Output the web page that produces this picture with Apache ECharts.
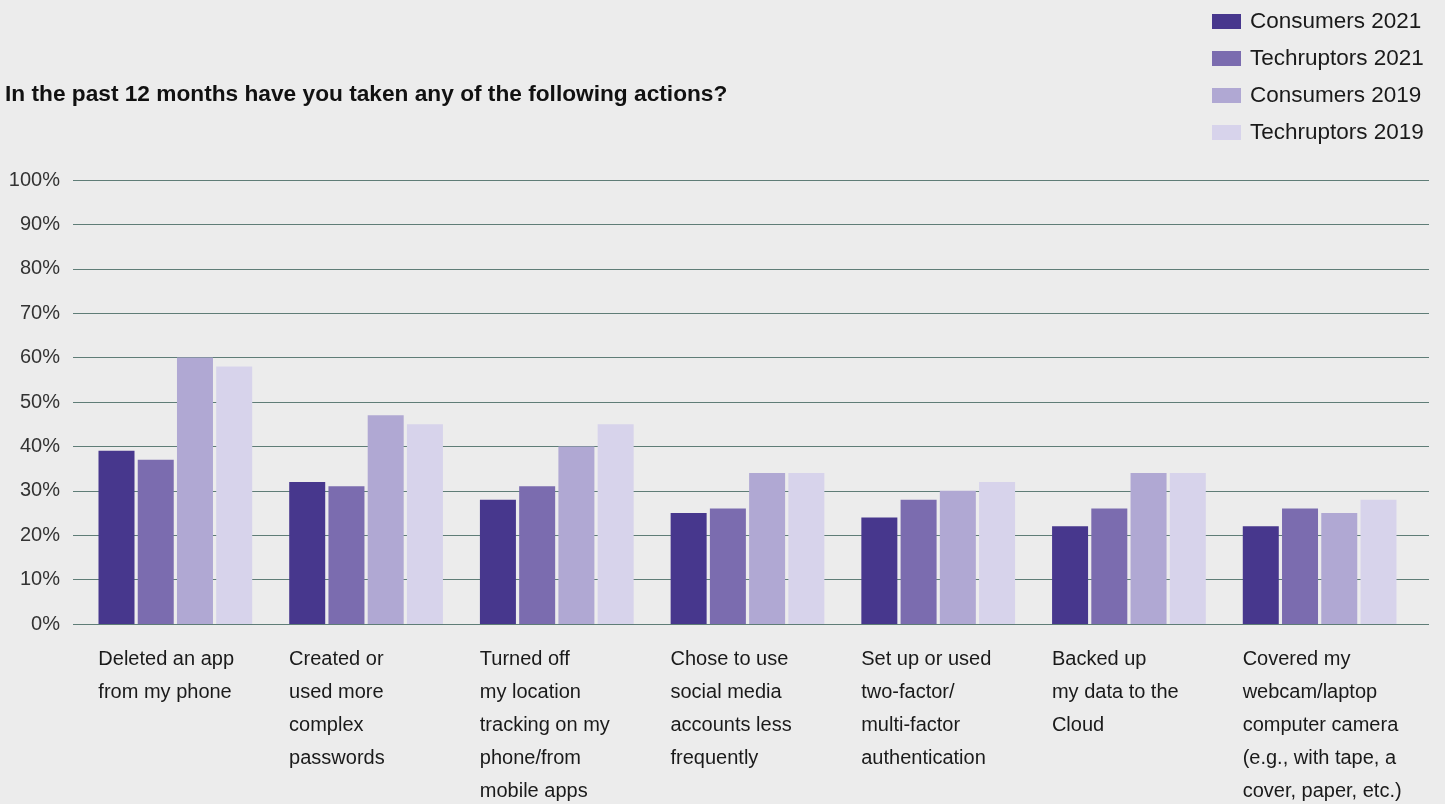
<!DOCTYPE html>
<html><head><meta charset="utf-8">
<script src="https://cdn.jsdelivr.net/npm/echarts@6/dist/echarts.min.js"></script>
<style>html,body{margin:0;padding:0;background:#ececec}#c{width:1445px;height:804px}</style>
</head><body><div id="c"></div>
<script>
const categories = [
  "Deleted an app\nfrom my phone",
  "Created or\nused more\ncomplex\npasswords",
  "Turned off\nmy location\ntracking on my\nphone/from\nmobile apps",
  "Chose to use\nsocial media\naccounts less\nfrequently",
  "Set up or used\ntwo-factor/\nmulti-factor\nauthentication",
  "Backed up\nmy data to the\nCloud",
  "Covered my\nwebcam/laptop\ncomputer camera\n(e.g., with tape, a\ncover, paper, etc.)"
];
const seriesNames = ["Consumers 2021", "Techruptors 2021", "Consumers 2019", "Techruptors 2019"];
const consumers2021 = [39, 32, 28, 25, 24, 22, 22];
const techruptors2021 = [37, 31, 31, 26, 28, 26, 26];
const consumers2019 = [60, 47, 40, 34, 30, 34, 25];
const techruptors2019 = [58, 45, 45, 34, 32, 34, 28];
const yMin = 0, yMax = 100, yInterval = 10;
const colors = ["#47378d", "#7b6caf", "#b0a8d3", "#d7d3eb"];
const FONT = "Liberation Sans";

const chart = echarts.init(document.getElementById('c'));
const values = [consumers2021, techruptors2021, consumers2019, techruptors2019];
chart.setOption({
  backgroundColor: '#ececec',
  animation: false,
  title: {
    text: 'In the past 12 months have you taken any of the following actions?',
    left: 0, top: 78,
    textStyle: { fontFamily: FONT, fontSize: 22.7, fontWeight: 'bold', color: '#111' }
  },
  legend: {
    orient: 'vertical', left: 1207, top: 5,
    itemWidth: 29, itemHeight: 15, itemGap: 14,
    icon: 'rect',
    data: seriesNames,
    textStyle: { fontFamily: FONT, fontSize: 22.5, color: '#1a1a1a', padding: [0, 0, 0, 4] }
  },
  grid: [
    { left: 80, right: 30, top: 180, bottom: 180 },
    { left: 73, right: 16, top: 180, bottom: 180 }
  ],
  xAxis: [
    {
      type: 'category', gridIndex: 0, data: categories,
      axisLine: { show: false }, axisTick: { show: false },
      axisLabel: {
        interval: 0, align: 'center', margin: 19,
        formatter: v => '{a|' + v + '}',
        rich: { a: { width: 154, align: 'left', lineHeight: 33, fontSize: 20, fontFamily: FONT, color: '#1a1a1a' } }
      }
    },
    { type: 'value', gridIndex: 1, min: 0, max: 1, show: false }
  ],
  yAxis: [
    { type: 'value', gridIndex: 0, min: yMin, max: yMax, interval: yInterval, show: false },
    {
      type: 'value', gridIndex: 1, min: yMin, max: yMax, interval: yInterval,
      axisLine: { show: false }, axisTick: { show: false },
      axisLabel: { formatter: '{value}%', margin: 13, fontSize: 20, fontFamily: FONT, color: '#333' },
      splitLine: { lineStyle: { color: '#5f7d77', width: 1 } }
    }
  ],
  series: seriesNames.map((n, i) => ({
    name: n, type: 'bar', xAxisIndex: 0, yAxisIndex: 0,
    data: values[i], barWidth: 36, barGap: '9%',
    itemStyle: { color: colors[i] }
  }))
});
</script></body></html>
